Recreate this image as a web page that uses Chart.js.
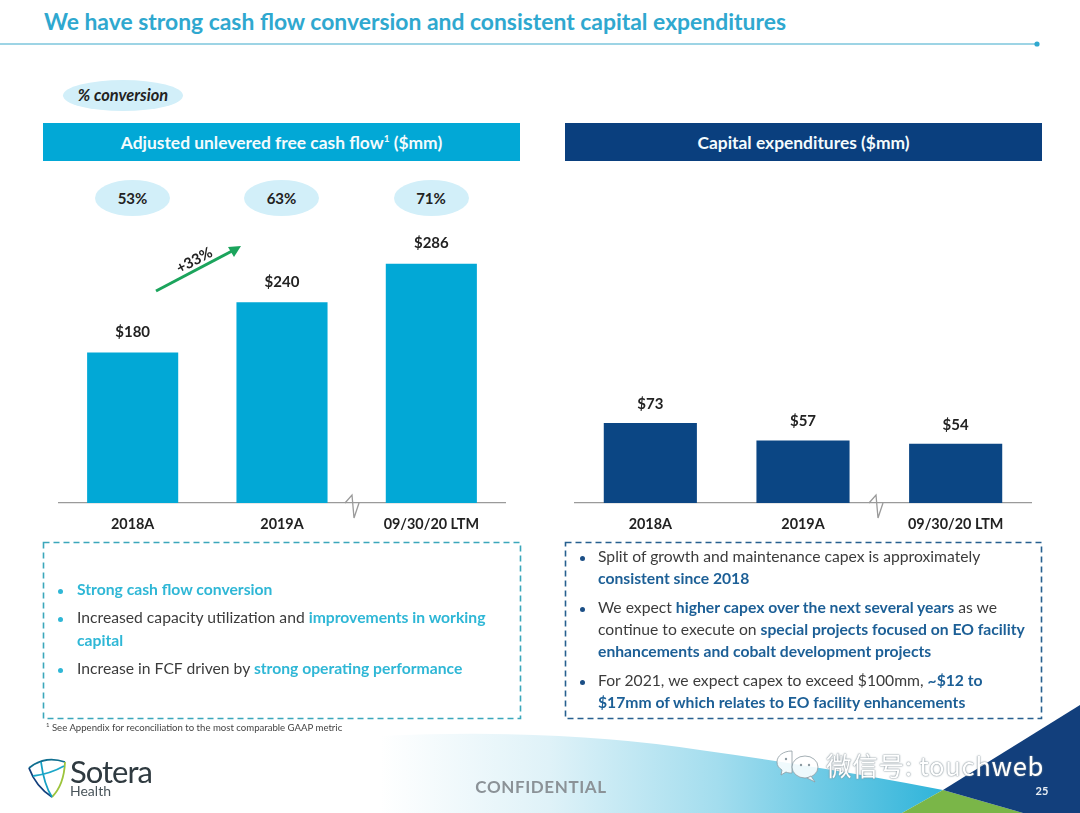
<!DOCTYPE html>
<html><head><meta charset="utf-8">
<script src="https://cdn.jsdelivr.net/npm/chart.js@4"></script>
<style>
html,body{margin:0;padding:0;background:#fff}
#page{position:relative;width:1080px;height:813px;overflow:hidden;font-family:Lato,sans-serif;background:#fff;color:#333}
.t{position:absolute;white-space:nowrap;line-height:1;transform:translateY(-50%)}
.c{transform:translate(-50%,-50%)}
.pill{position:absolute;background:#d2eff9;border-radius:50%}
.head{position:absolute;top:123px;height:38px;line-height:39px;color:#f4fbfd;font-weight:700;font-size:17.4px;text-align:center}
canvas{position:absolute}
.l{font-size:15.7px;color:#3c3c3c}
.cy{color:#2fb7d6;font-weight:700}.nv{color:#1c5f96;font-weight:700}
svg{position:absolute;left:0;top:0}
</style></head><body><div id="page">
<svg width="1080" height="813" style="z-index:0">
<defs><linearGradient id="g" x1="0" x2="1" y1="0" y2="0"><stop offset="0" stop-color="#fff"/><stop offset=".3" stop-color="#dff2f8"/><stop offset=".6" stop-color="#a3ddee"/><stop offset="1" stop-color="#2fb4da"/></linearGradient></defs>
<path d="M380 813V736Q560 728 700 750Q830 768 943 790L902 813Z" fill="url(#g)"/>
<path d="M943 790L902 813H1023Z" fill="#7ab648"/>
<path d="M1080 705L943 790L1023 813H1080Z" fill="#123f7c"/>
</svg>
<div class="t" style="left:44px;top:21px;font-size:22.9px;font-weight:700;color:#2fa8cf">We have strong cash flow conversion and consistent capital expenditures</div>
<svg width="1080" height="813" style="z-index:1"><line x1="0" y1="44" x2="1037" y2="44" stroke="#7cc6dc" stroke-width="1.6"/><circle cx="1037" cy="44" r="2.6" fill="#2fa8cf"/></svg>
<div class="pill" style="left:63px;top:80px;width:120px;height:31px"></div>
<div class="t c" style="left:123px;top:95px;font-size:16.4px;font-weight:700;font-style:italic;color:#222">% conversion</div>
<div class="head" style="left:43px;width:477px;background:#02a8d6">Adjusted unlevered free cash flow<sup style="font-size:10px;line-height:0">1</sup> ($mm)</div>
<div class="head" style="left:565px;width:477px;background:#0a3f7e">Capital expenditures ($mm)</div>
<div id="pills"></div>
<canvas id="left" style="left:58px;top:227px"></canvas>
<canvas id="right" style="left:574px;top:227px"></canvas>
<svg width="1080" height="813" style="z-index:2">
<polyline points="345,503 352,495 354,518 359,503" fill="none" stroke="#9a9a9a" stroke-width="1.3"/>
<polyline points="869,503 876,495 878,518 883,503" fill="none" stroke="#9a9a9a" stroke-width="1.3"/>
<line x1="156" y1="291" x2="232" y2="251" stroke="#1ba45c" stroke-width="3"/>
<path d="M241 246L228 247L234 257Z" fill="#1ba45c"/>
<rect x="43.5" y="542.5" width="477" height="176" fill="none" stroke="#3ba7bb" stroke-width="1.6" stroke-dasharray="6 4"/>
<rect x="565.5" y="542.5" width="476" height="176" fill="none" stroke="#27608f" stroke-width="1.6" stroke-dasharray="6 4"/>
</svg>
<div class="t c" style="left:194px;top:260px;font-size:15px;font-weight:700;color:#222;transform:translate(-50%,-50%) rotate(-28deg);z-index:3">+33%</div>
<div id="textLines" style="position:absolute;left:0;top:0;z-index:3"></div>
<div class="t" style="left:46px;top:728px;font-size:9.6px;color:#444;z-index:3"><sup style="font-size:6px;line-height:0">1</sup> See Appendix for reconciliation to the most comparable GAAP metric</div>
<svg width="1080" height="813" style="z-index:3">
<g fill="none" stroke-width="1.8">
<path d="M29 768Q45 755 65 762" stroke="#0f6e8f"/>
<path d="M29 768Q36 787 52 797" stroke="#123f7c"/>
<path d="M65 762Q64 785 52 797" stroke="#9cc43c"/>
<path d="M41 762Q44 785 52 797" stroke="#16a0c4"/>
<path d="M33 776Q50 774 64 766" stroke="#1ca7c8"/>
</g></svg>
<div class="t" style="left:70px;top:771px;font-size:31px;color:#2f3a40;letter-spacing:-1px;z-index:3">Sotera</div>
<div class="t" style="left:70px;top:791px;font-size:14px;color:#4a555b;z-index:3">Health</div>
<div class="t c" style="left:541px;top:786px;font-size:17px;font-weight:700;color:#8b9297;letter-spacing:.6px;z-index:3">CONFIDENTIAL</div>
<div class="t c" style="left:1042px;top:790px;font-size:11px;font-weight:700;color:#e8eef4;z-index:3">25</div>
<svg width="1080" height="813" style="z-index:4"><g fill="rgba(255,255,255,.88)" stroke="#8d9aa1" stroke-width=".8">
<path d="M792 751c-9 0-15 5-15 11 0 4 2 6 5 8l-1 5 5-3c2 1 4 1 6 1z"/>
<ellipse cx="805" cy="767" rx="13" ry="11"/><path d="M811 776l4 6-8-4z"/></g>
<g fill="#8d9aa1"><circle cx="801" cy="765" r="1.2"/><circle cx="809" cy="765" r="1.2"/><circle cx="786" cy="759" r="1.2"/></g></svg>
<div class="t" style="left:826px;top:765px;font-family:'Noto Sans CJK SC','DejaVu Sans',sans-serif;font-size:25.6px;color:#fff;text-shadow:0 0 2px #7b8a92,0 0 1px #7b8a92;letter-spacing:.7px;z-index:4">微信号: touchweb</div>
</div>
<script>
const categories = ['2018A', '2019A', '09/30/20 LTM'];
const fcfValues = [180, 240, 286];
const capexValues = [73, 57, 54];
const conversionLabels = ['53%', '63%', '71%'];

function valueLabels(offset) {
  return {
    id: 'valueLabels',
    afterDatasetsDraw(chart) {
      const ctx = chart.ctx, meta = chart.getDatasetMeta(0);
      ctx.save();
      ctx.font = '700 15px Lato, sans-serif';
      ctx.fillStyle = '#222';
      ctx.textAlign = 'center';
      ctx.textBaseline = 'middle';
      meta.data.forEach((bar, i) => {
        ctx.fillText('$' + chart.data.datasets[0].data[i], bar.x, bar.y - offset);
      });
      ctx.restore();
    }
  };
}
function makeChart(id, values, color, yMax, offset) {
  return new Chart(document.getElementById(id), {
    type: 'bar',
    data: { labels: categories, datasets: [{ data: values, backgroundColor: color, barPercentage: 0.61, categoryPercentage: 1 }] },
    options: {
      responsive: false, animation: false,
      layout: { padding: 0 },
      plugins: { legend: { display: false }, tooltip: { enabled: false } },
      scales: {
        x: {
          grid: { display: false, drawTicks: false },
          border: { color: '#9a9a9a', width: 1.3 },
          ticks: { color: '#222', font: { family: 'Lato', weight: '700', size: 14.4 }, padding: 13, maxRotation: 0 },
          afterFit(s) { s.height = 37; }
        },
        y: { display: false, min: 0, max: yMax }
      }
    },
    plugins: [valueLabels(offset)]
  });
}
const lc = document.getElementById('left'); lc.width = 448; lc.height = 313;
const rc = document.getElementById('right'); rc.width = 458; rc.height = 313;
makeChart('left', fcfValues, '#02a8d6', 330, 20.5);
makeChart('right', capexValues, '#0b4684', 252, 19);

const pillHost = document.getElementById('pills');
[132.5, 281.5, 431].forEach((x, i) => {
  pillHost.insertAdjacentHTML('beforeend',
    `<div class="pill" style="left:${x-37.5}px;top:180px;width:75px;height:36px"></div>` +
    `<div class="t c" style="left:${x}px;top:198px;font-size:15px;font-weight:700;color:#222">${conversionLabels[i]}</div>`);
});
const leftLines = [
  [77, 590, '<span class="cy">Strong cash flow conversion</span>', 1],
  [77, 618, 'Increased capacity utilization and <span class="cy">improvements in working</span>', 1],
  [77, 641, '<span class="cy">capital</span>', 0],
  [77, 669, 'Increase in FCF driven by <span class="cy">strong operating performance</span>', 1]
];
const rightLines = [
  [598, 557, 'Split of growth and maintenance capex is approximately', 1],
  [598, 579, '<span class="nv">consistent since 2018</span>', 0],
  [598, 608, 'We expect <span class="nv">higher capex over the next several years</span> as we', 1],
  [598, 630, 'continue to execute on <span class="nv">special projects focused on EO facility</span>', 0],
  [598, 652, '<span class="nv">enhancements and cobalt development projects</span>', 0],
  [598, 681, 'For 2021, we expect capex to exceed $100mm, <span class="nv">~$12 to</span>', 1],
  [598, 703, '<span class="nv">$17mm of which relates to EO facility enhancements</span>', 0]
];
const host = document.getElementById('textLines');
function put(lines, dotX, dotColor) {
  lines.forEach(([x, y, html, dot]) => {
    host.insertAdjacentHTML('beforeend', `<div class="t l" style="left:${x}px;top:${y}px">${html}</div>`);
    if (dot) host.insertAdjacentHTML('beforeend', `<div style="position:absolute;left:${dotX-2.5}px;top:${y-1.5}px;width:5px;height:5px;border-radius:50%;background:${dotColor}"></div>`);
  });
}
put(leftLines, 60, '#2fb7d6');
put(rightLines, 582, '#1c4f86');
</script>
</body></html>
